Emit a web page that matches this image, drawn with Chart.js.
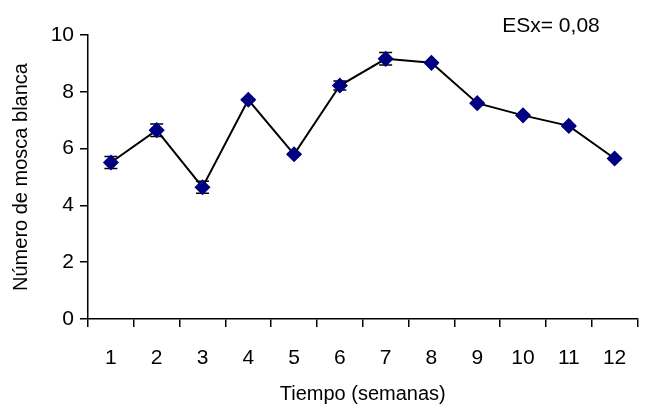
<!DOCTYPE html>
<html>
<head>
<meta charset="utf-8">
<script src="https://cdn.jsdelivr.net/npm/chart.js@4/dist/chart.umd.min.js"></script>
<style>
  html, body { margin: 0; padding: 0; background: #fff; }
  #wrap { width: 646px; height: 406px; }
</style>
</head>
<body>
<div id="wrap"><canvas id="chart" width="646" height="406"></canvas></div>
<script>
// Data
const weeks = ['1', '2', '3', '4', '5', '6', '7', '8', '9', '10', '11', '12'];
const whitefly = [5.51, 6.65, 4.64, 7.72, 5.80, 8.22, 9.16, 9.02, 7.60, 7.17, 6.80, 5.65];
const errors = [0.21, 0.22, 0.21, 0.03, 0.03, 0.16, 0.22, 0.03, 0.03, 0.03, 0.03, 0.03];
const yTicks = [0, 2, 4, 6, 8, 10];
const note = 'ESx= 0,08';

const FONT = 'Liberation Sans, Arial, sans-serif';

// Vertical error bars with small caps, drawn under the markers
const errorBars = {
    id: 'errorBars',
    beforeDatasetsDraw(chart) {
        const ctx = chart.ctx;
        const x = chart.scales.x;
        const y = chart.scales.y;
        ctx.save();
        ctx.strokeStyle = '#000';
        ctx.lineWidth = 1.5;
        whitefly.forEach((v, i) => {
            const px = x.getPixelForValue(i);
            const top = y.getPixelForValue(v + errors[i]);
            const bot = y.getPixelForValue(v - errors[i]);
            ctx.beginPath();
            ctx.moveTo(px, top);
            ctx.lineTo(px, bot);
            ctx.moveTo(px - 6.5, top);
            ctx.lineTo(px + 6.5, top);
            ctx.moveTo(px - 6.5, bot);
            ctx.lineTo(px + 6.5, bot);
            ctx.stroke();
        });
        ctx.restore();
    }
};

// Standard error note in the upper right corner
const noteText = {
    id: 'noteText',
    afterDraw(chart) {
        const ctx = chart.ctx;
        ctx.save();
        ctx.font = '21px ' + FONT;
        ctx.fillStyle = '#000';
        ctx.textAlign = 'center';
        ctx.textBaseline = 'middle';
        ctx.fillText(note, 551, 26);
        ctx.restore();
    }
};

new Chart(document.getElementById('chart'), {
    type: 'line',
    data: {
        labels: weeks,
        datasets: [{
            data: whitefly,
            borderColor: '#000',
            borderWidth: 2,
            pointStyle: 'rectRot',
            pointRadius: 7,
            pointBackgroundColor: '#000080',
            pointBorderColor: '#000080',
            pointBorderWidth: 1.5,
            tension: 0
        }]
    },
    options: {
        responsive: false,
        animation: false,
        layout: { padding: { top: 35, right: 1, bottom: 0, left: 0 } },
        plugins: {
            legend: { display: false },
            tooltip: { enabled: false }
        },
        scales: {
            x: {
                offset: true,
                grid: {
                    offset: true,
                    drawOnChartArea: false,
                    color: '#000',
                    lineWidth: 1.5,
                    tickLength: 8
                },
                border: { color: '#000', width: 1.5 },
                ticks: {
                    color: '#000',
                    font: { family: FONT, size: 21 },
                    padding: 19,
                    maxRotation: 0
                },
                title: {
                    display: true,
                    text: 'Tiempo (semanas)',
                    color: '#000',
                    font: { family: FONT, size: 20 },
                    padding: { top: 0, bottom: 0 }
                },
                afterFit(scale) { scale.height = 87; }
            },
            y: {
                min: 0,
                max: 10,
                afterBuildTicks(scale) { scale.ticks = yTicks.map(v => ({ value: v })); },
                grid: {
                    drawOnChartArea: false,
                    color: '#000',
                    lineWidth: 1.5,
                    tickLength: 8
                },
                border: { color: '#000', width: 1.5 },
                ticks: {
                    color: '#000',
                    font: { family: FONT, size: 21 },
                    padding: 6
                },
                title: {
                    display: true,
                    text: 'Número de mosca blanca',
                    color: '#000',
                    font: { family: FONT, size: 20 },
                    padding: { top: 9, bottom: 4 }
                },
                afterFit(scale) { scale.width = 88; }
            }
        }
    },
    plugins: [errorBars, noteText]
});
</script>
</body>
</html>
